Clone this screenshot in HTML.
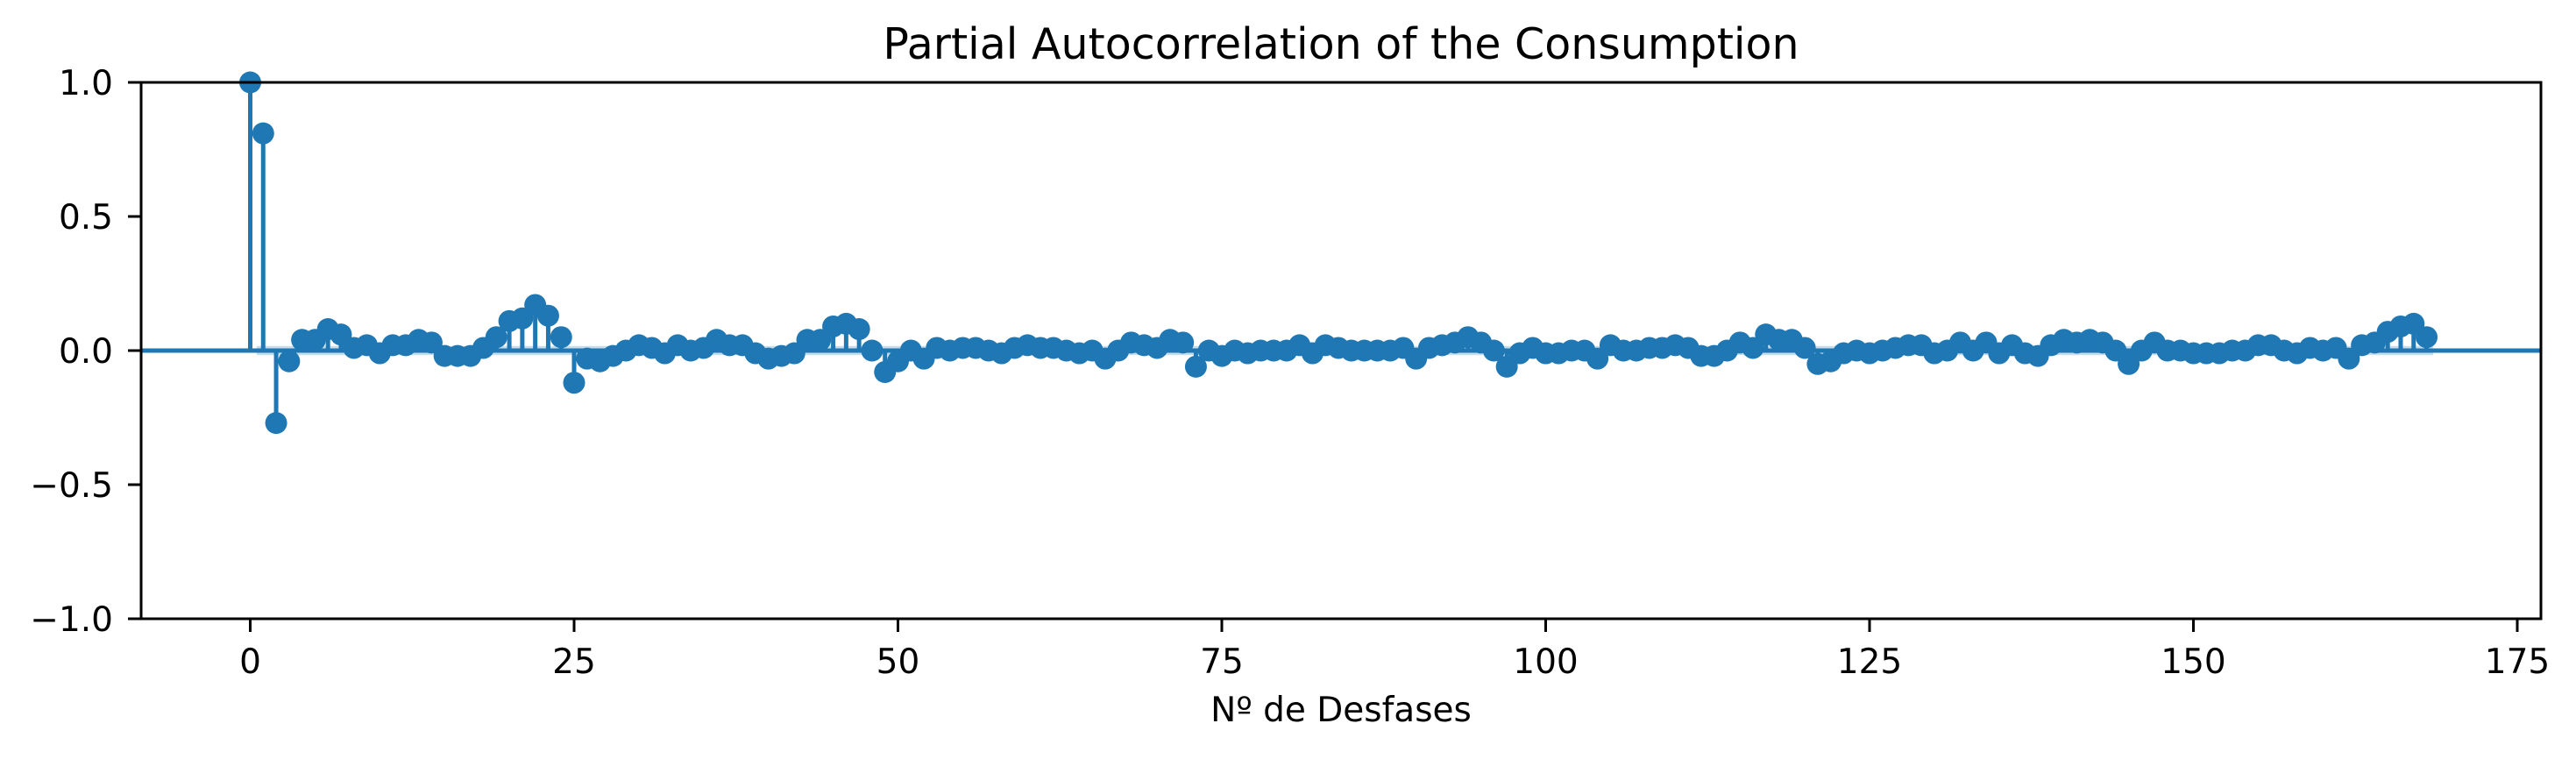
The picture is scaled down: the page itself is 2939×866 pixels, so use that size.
<!DOCTYPE html>
<html><head><meta charset="utf-8"><style>
html,body{margin:0;padding:0;background:#fff;}
svg{display:block;font-family:"DejaVu Sans","Liberation Sans",sans-serif;}
</style></head><body>
<svg id="chart" width="2939" height="866" viewBox="0 0 2939 866" xmlns="http://www.w3.org/2000/svg">
<rect width="2939" height="866" fill="#fff"/>
<text x="1530" y="67" font-size="49" text-anchor="middle" fill="#000">Partial Autocorrelation of the Consumption</text>
<g id="plot"></g>
<text x="1530" y="823" font-size="39" text-anchor="middle" fill="#000">Nº de Desfases</text>
</svg>
<script>
const pacfValues=[1.0,0.81,-0.27,-0.04,0.04,0.04,0.08,0.06,0.01,0.02,-0.01,0.02,0.02,0.04,0.03,-0.02,-0.02,-0.02,0.01,0.05,0.11,0.12,0.17,0.13,0.05,-0.12,-0.03,-0.04,-0.02,0.0,0.02,0.01,-0.01,0.02,0.0,0.01,0.04,0.02,0.02,-0.01,-0.03,-0.02,-0.01,0.04,0.04,0.09,0.1,0.08,0.0,-0.08,-0.04,0.0,-0.03,0.01,0.0,0.01,0.01,0.0,-0.01,0.01,0.02,0.01,0.01,0.0,-0.01,0.0,-0.03,0.0,0.03,0.02,0.01,0.04,0.03,-0.06,0.0,-0.02,0.0,-0.01,0.0,0.0,0.0,0.02,-0.01,0.02,0.01,0.0,0.0,0.0,0.0,0.01,-0.03,0.01,0.02,0.03,0.05,0.03,0.0,-0.06,-0.01,0.01,-0.01,-0.01,0.0,0.0,-0.03,0.02,0.0,0.0,0.01,0.01,0.02,0.01,-0.02,-0.02,0.0,0.03,0.01,0.06,0.04,0.04,0.01,-0.05,-0.04,-0.01,0.0,-0.01,0.0,0.01,0.02,0.02,-0.01,0.0,0.03,0.0,0.03,-0.01,0.02,-0.01,-0.02,0.02,0.04,0.03,0.04,0.03,0.0,-0.05,0.0,0.03,0.0,0.0,-0.01,-0.01,-0.01,0.0,0.0,0.02,0.02,0.0,-0.01,0.01,0.0,0.01,-0.03,0.02,0.03,0.07,0.09,0.1,0.05];
const confBand=0.017;
const xTicks=[0,25,50,75,100,125,150,175];
const yTicks=[-1.0,-0.5,0.0,0.5,1.0];
const yTickLabels=["−1.0","−0.5","0.0","0.5","1.0"];
const L=161,R=2899,T=94,B=706;
const X=v=>285.5+v*14.78;
const Y=v=>400-v*306;
const ns="http://www.w3.org/2000/svg";
const g=document.getElementById('plot');
function mk(t,a){const e=document.createElementNS(ns,t);for(const k in a)e.setAttribute(k,a[k]);g.appendChild(e);return e;}
const n=pacfValues.length;
let band=mk('rect',{x:X(0.5),y:Y(confBand),width:X(n-0.5)-X(0.5),height:Y(-confBand)-Y(confBand),fill:'#1f77b4','fill-opacity':0.25});


let zl=mk('line',{x1:L,x2:R,y1:Y(0),y2:Y(0),stroke:'#1f77b4','stroke-width':5});


pacfValues.forEach((v,i)=>{
  const s=mk('line',{x1:X(i),x2:X(i),y1:Y(0),y2:Y(v),stroke:'#1f77b4','stroke-width':5});
  
  
});
pacfValues.forEach((v,i)=>{
  const c=mk('circle',{cx:X(i),cy:Y(v),r:12.5,fill:'#1f77b4'});
  
  
});
let fr=mk('rect',{x:L,y:T,width:R-L,height:B-T,fill:'none',stroke:'#000','stroke-width':3});


xTicks.forEach(t=>{
  const tk=mk('line',{x1:X(t),x2:X(t),y1:B,y2:B+15,stroke:'#000','stroke-width':3});
  
  
  const lb=mk('text',{x:X(t),y:B+62,'font-size':39,'text-anchor':'middle',fill:'#000'});
  lb.textContent=String(t);
  
  
});
yTicks.forEach((t,i)=>{
  const tk=mk('line',{x1:L-15,x2:L,y1:Y(t),y2:Y(t),stroke:'#000','stroke-width':3});
  
  
  const lb=mk('text',{x:L-32,y:Y(t)+14,'font-size':39,'text-anchor':'end',fill:'#000'});
  lb.textContent=yTickLabels[i];
  
  
});
</script>
</body></html>
